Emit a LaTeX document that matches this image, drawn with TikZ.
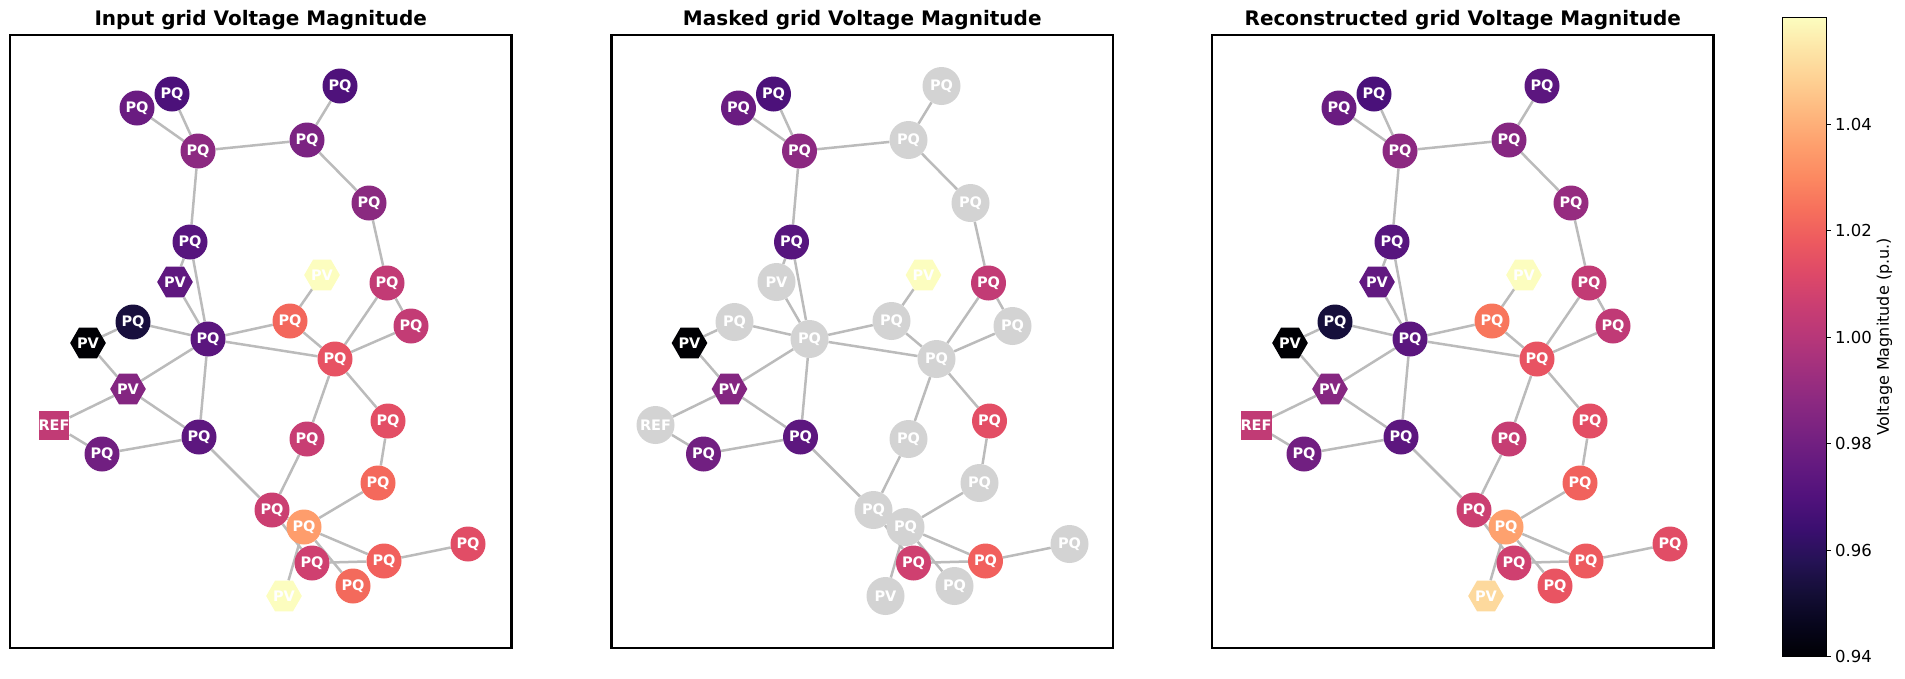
\documentclass[tikz,border=0pt]{standalone}
\usepackage{fontspec}
\setmainfont{DejaVu Sans}
\usetikzlibrary{shapes.geometric,backgrounds}

% magma colour map
\definecolor{mg0}{HTML}{000004}
\definecolor{mg1}{HTML}{07061C}
\definecolor{mg2}{HTML}{140E36}
\definecolor{mg3}{HTML}{251255}
\definecolor{mg4}{HTML}{3B0F70}
\definecolor{mg5}{HTML}{51127C}
\definecolor{mg6}{HTML}{641A80}
\definecolor{mg7}{HTML}{782281}
\definecolor{mg8}{HTML}{8C2981}
\definecolor{mg9}{HTML}{A1307E}
\definecolor{mg10}{HTML}{B73779}
\definecolor{mg11}{HTML}{CA3E72}
\definecolor{mg12}{HTML}{DE4968}
\definecolor{mg13}{HTML}{ED5A5F}
\definecolor{mg14}{HTML}{F7705C}
\definecolor{mg15}{HTML}{FC8961}
\definecolor{mg16}{HTML}{FE9F6D}
\definecolor{mg17}{HTML}{FEB77E}
\definecolor{mg18}{HTML}{FECF92}
\definecolor{mg19}{HTML}{FDE5A7}
\definecolor{mg20}{HTML}{FCFDBF}
\definecolor{wiregray}{HTML}{BBBBBB}
\definecolor{maskgray}{HTML}{D3D3D3}

\pgfdeclareverticalshading{magma}{100bp}{color(0bp)=(mg0); color(25bp)=(mg0);
  color(27.5bp)=(mg1); color(30bp)=(mg2); color(32.5bp)=(mg3); color(35bp)=(mg4);
  color(37.5bp)=(mg5); color(40bp)=(mg6); color(42.5bp)=(mg7); color(45bp)=(mg8);
  color(47.5bp)=(mg9); color(50bp)=(mg10); color(52.5bp)=(mg11); color(55bp)=(mg12);
  color(57.5bp)=(mg13); color(60bp)=(mg14); color(62.5bp)=(mg15); color(65bp)=(mg16);
  color(67.5bp)=(mg17); color(70bp)=(mg18); color(72.5bp)=(mg19); color(75bp)=(mg20);
  color(100bp)=(mg20)}

\tikzset{
  busbox/.style={draw=none, text=white, inner sep=0pt, font=\fontsize{14.5}{14.5}\selectfont\bfseries},
  busPQ/.style={busbox, circle, minimum size=35pt},
  busPV/.style={busbox, regular polygon, regular polygon sides=6, minimum size=35pt},
  busREF/.style={busbox, rectangle, minimum size=29pt},
  maskedbus/.style={busbox, circle, minimum size=38pt, fill=maskgray},
  wire/.style={draw=wiregray, line width=2.5pt},
  panelframe/.style={line width=2.5pt},
  paneltitle/.style={anchor=base, font=\fontsize{20}{20}\selectfont\bfseries},
  ticklabel/.style={anchor=west, inner sep=0pt, font=\fontsize{16.5}{16.5}\selectfont}
}

\begin{document}
\begin{tikzpicture}[x=1pt,y=-1pt]
  \useasboundingbox (0,0) rectangle (1905,678);
  % three panels
  \foreach \p/\dx/\ttl in {I/0/Input, M/601.5/Masked, R/1202/Reconstructed} {
    \draw[panelframe] (10+\dx,35) rectangle (511.5+\dx,648);
    \node[paneltitle] (title\p) at (260.75+\dx,25) {\ttl{} grid Voltage Magnitude};
  }
  % buses: id / x / y / type / masked / input colour / reconstructed colour
  \foreach \n/\x/\y/\t/\m/\ci/\cr in {
      1/137/108/PQ/0/6A1C81/6A1C81, 2/172/94/PQ/0/4C117A/4A117A,
      3/198/151/PQ/0/8C2981/8C2981, 4/307/140/PQ/1/7B2382/862781,
      5/340/86/PQ/1/4F127B/5C167F, 6/369/203/PQ/1/8A2A80/962C80,
      7/190/242/PQ/0/57157E/57157E, 8/175/282/PV/1/5F187F/621980,
      9/322/275/PV/0/FCFDBF/FCFDBF, 10/387/283/PQ/0/C23B75/C23B75,
      11/133/322/PQ/1/180F3D/160F3B, 12/88/343/PV/0/000004/000004,
      13/208/339/PQ/1/5B167E/5B167E, 14/290/321/PQ/1/F3675C/F8765C,
      15/411/326/PQ/1/C33C75/C03A76, 16/335/359/PQ/1/E75263/E85362,
      17/128/389/PV/0/842681/862781, 18/54/425/REF/1/C13B75/C13B75,
      19/102/454/PQ/0/711F81/711F81, 20/199/437/PQ/0/5D177F/5D177F,
      21/307/439/PQ/1/C83E73/C63D73, 22/388/421/PQ/0/E34E65/E34E65,
      23/378/483/PQ/1/F4695C/F1625D, 24/272/510/PQ/1/CB3F71/CB3F71,
      25/304/527/PQ/1/FE9D6C/FEA16E, 26/468/544/PQ/1/E14D66/E14D66,
      27/312/563/PQ/0/CF4070/CF4070, 28/384/561/PQ/0/F1605D/ED5A5F,
      29/353/586/PQ/1/F36A5C/E95462, 30/284/596/PV/1/FCFDBF/FDD99D} {
    \definecolor{cin}{HTML}{\ci}
    \definecolor{crec}{HTML}{\cr}
    \node[bus\t, fill=cin] (I\n) at (\x,\y) {\t};
    \ifnum\m=1
      \node[maskedbus] (M\n) at (\x+601.5,\y) {\t};
    \else
      \node[bus\t, fill=cin] (M\n) at (\x+601.5,\y) {\t};
    \fi
    \node[bus\t, fill=crec] (R\n) at (\x+1202,\y) {\t};
  }
  % lines
  \begin{pgfonlayer}{background}
    \foreach \p in {I,M,R}
      \foreach \a/\b in {1/3, 2/3, 3/4, 4/5, 4/6, 6/10, 3/7, 7/8, 7/13, 8/13,
          11/13, 12/11, 12/17, 17/13, 17/18, 17/20, 18/19, 19/20, 13/20,
          13/14, 13/16, 9/14, 14/16, 16/10, 10/15, 16/15, 16/22, 16/21,
          22/23, 21/24, 20/24, 24/25, 24/27, 23/25, 25/29, 25/28, 25/30,
          28/26, 27/28}
        \draw[wire] (\p\a) -- (\p\b);
  \end{pgfonlayer}
  % colour bar
  \shade[shading=magma] (1782,17.3) rectangle (1826,656.7);
  \draw[line width=1pt] (1782,17.3) rectangle (1826,656.7);
  \foreach \v/\y [count=\k] in {0.94/656.7, 0.96/550.2, 0.98/443.7, 1.00/337.2, 1.02/230.7, 1.04/124.2} {
    \draw[line width=1pt] (1826,\y) -- (1831,\y);
    \node[ticklabel] (tick\k) at (1835,\y) {\v};
  }
  \node[rotate=90, font=\fontsize{16}{16}\selectfont] (cbarlabel) at (1884.5,337) {Voltage Magnitude (p.u.)};
\end{tikzpicture}
\end{document}
